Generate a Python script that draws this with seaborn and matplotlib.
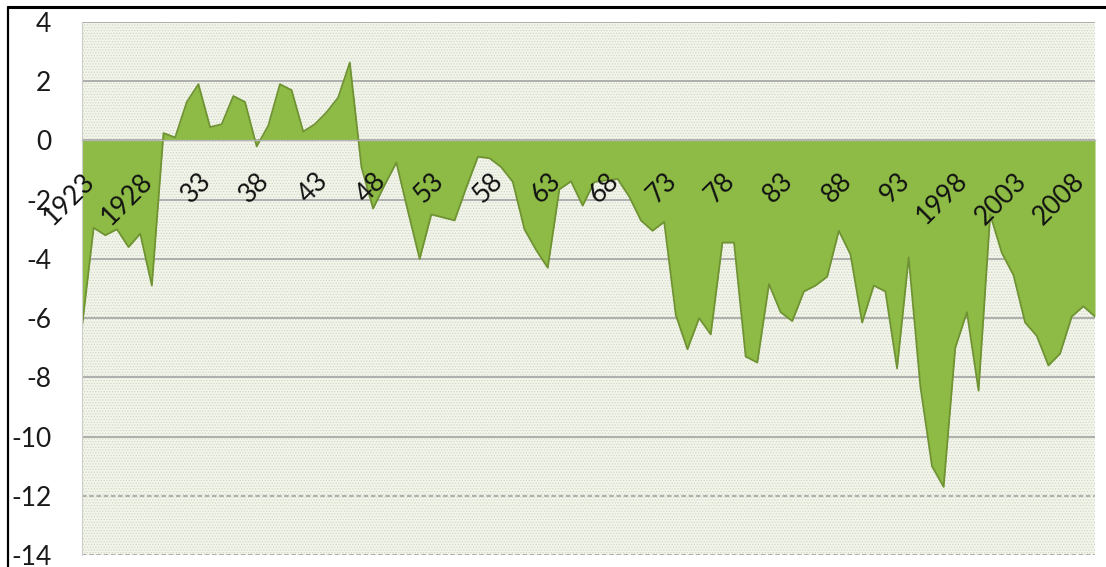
import matplotlib
matplotlib.use("Agg")
import matplotlib.pyplot as plt
from matplotlib.lines import Line2D
from matplotlib.patches import Rectangle
import pandas as pd
import seaborn as sns

# Annual balance, 1923-2010
years = list(range(1923, 2011))
balance = [
    -6.3, -2.95, -3.2, -3.0, -3.6, -3.15, -4.9,            # 1923-1929
    0.25, 0.1, 1.3, 1.9, 0.45, 0.55, 1.5, 1.3, -0.2, 0.5,  # 1930-1939
    1.9, 1.7, 0.3, 0.55, 0.95, 1.45, 2.63, -0.9, -2.3, -1.5,  # 1940-1949
    -0.75, -2.4, -4.0, -2.5, -2.6, -2.7, -1.6, -0.55, -0.6, -0.9,  # 1950-1959
    -1.4, -3.0, -3.7, -4.3, -1.65, -1.38, -2.2, -1.4, -1.35, -1.3,  # 1960-1969
    -1.9, -2.7, -3.05, -2.75, -5.9, -7.05, -6.0, -6.55, -3.45, -3.45,  # 1970-1979
    -7.3, -7.5, -4.85, -5.8, -6.1, -5.1, -4.9, -4.6, -3.05, -3.85,  # 1980-1989
    -6.15, -4.9, -5.1, -7.7, -3.95, -8.3, -11.0, -11.7, -7.0, -5.8,  # 1990-1999
    -8.45, -2.5, -3.8, -4.55, -6.15, -6.6, -7.6, -7.2, -5.95, -5.6,  # 2000-2009
    -5.95,                                                   # 2010
]

tick_years = list(range(1923, 2009, 5))
tick_labels = ["1923", "1928", "33", "38", "43", "48", "53", "58", "63",
               "68", "73", "78", "83", "88", "93", "1998", "2003", "2008"]
y_ticks = list(range(-14, 5, 2))
y_tick_labels = [str(v) for v in y_ticks]

FILL = "#8dbb45"
EDGE = "#6f9333"
GRID = "#a9a9a9"

sns.set_theme(style="white")
plt.rcParams["font.family"] = ["Lato", "DejaVu Sans"]
plt.rcParams["hatch.linewidth"] = 0.6

fig = plt.figure(figsize=(11.06, 5.67), dpi=100)
fig.patch.set_facecolor("white")
W, H = 1106, 567
ax = fig.add_axes([82 / W, 12 / H, 1013 / W, 533 / H])
ax.patch.set_alpha(0)
ax.set_axisbelow(False)

# dotted plot-area background
ax.add_patch(Rectangle((0, 0), 1, 1, transform=ax.transAxes,
                       facecolor="#f3f5ec", edgecolor="#d0d9c2",
                       hatch="......", lw=0, zorder=0.1))

df = pd.DataFrame({"year": years, "balance": balance})

# horizontal gridlines under the area
for v in y_ticks:
    ls = (0, (2.5, 1.5)) if v <= -12 else "-"
    ax.axhline(v, color=GRID, lw=1.3, ls=ls, zorder=0.5)

ax.fill_between(df["year"], df["balance"], 0, color=FILL, lw=0, zorder=1)
sns.lineplot(data=df, x="year", y="balance", color=EDGE, lw=1.3,
             ax=ax, zorder=2, legend=False)

ax.set_xlim(1923, 2010)
ax.set_ylim(-14, 4)
ax.set_xlabel("")
ax.set_ylabel("")

# category axis crossing at zero
ax.spines["bottom"].set_position(("data", 0))
ax.spines["bottom"].set_color("#b5b5b5")
ax.spines["bottom"].set_linewidth(1.0)
ax.spines["bottom"].set_zorder(3)
ax.spines["top"].set_visible(False)
ax.spines["right"].set_visible(False)
ax.spines["left"].set_color("#cccccc")
ax.spines["left"].set_linewidth(0.8)
ax.xaxis.set_zorder(4)

label_map = dict(zip(tick_years, tick_labels))
ax.set_xticks(years)
ax.set_xticklabels([label_map.get(y, "") for y in years])
ax.tick_params(axis="x", which="major", direction="out", length=5, width=0.8,
               color="#9a9a9a", pad=15, labelsize=19, labelcolor="#111111")
for lab in ax.get_xticklabels():
    lab.set_rotation(45)
    lab.set_rotation_mode("anchor")
    lab.set_ha("right")
    lab.set_va("top")

ax.set_yticks(y_ticks)
ax.set_yticklabels(y_tick_labels)
ax.tick_params(axis="y", direction="out", length=7, width=0.8,
               color="#a0a0a0", pad=15, labelsize=19, labelcolor="#1a1a1a")

# frame lines along the top and left edge
fig.add_artist(Line2D([8 / W, 1], [1 - 7 / H, 1 - 7 / H],
                      transform=fig.transFigure, color="black", lw=2.2))
fig.add_artist(Line2D([8 / W, 8 / W], [0, 1 - 7 / H],
                      transform=fig.transFigure, color="black", lw=1.6))

fig.savefig("out.png", dpi=100)
